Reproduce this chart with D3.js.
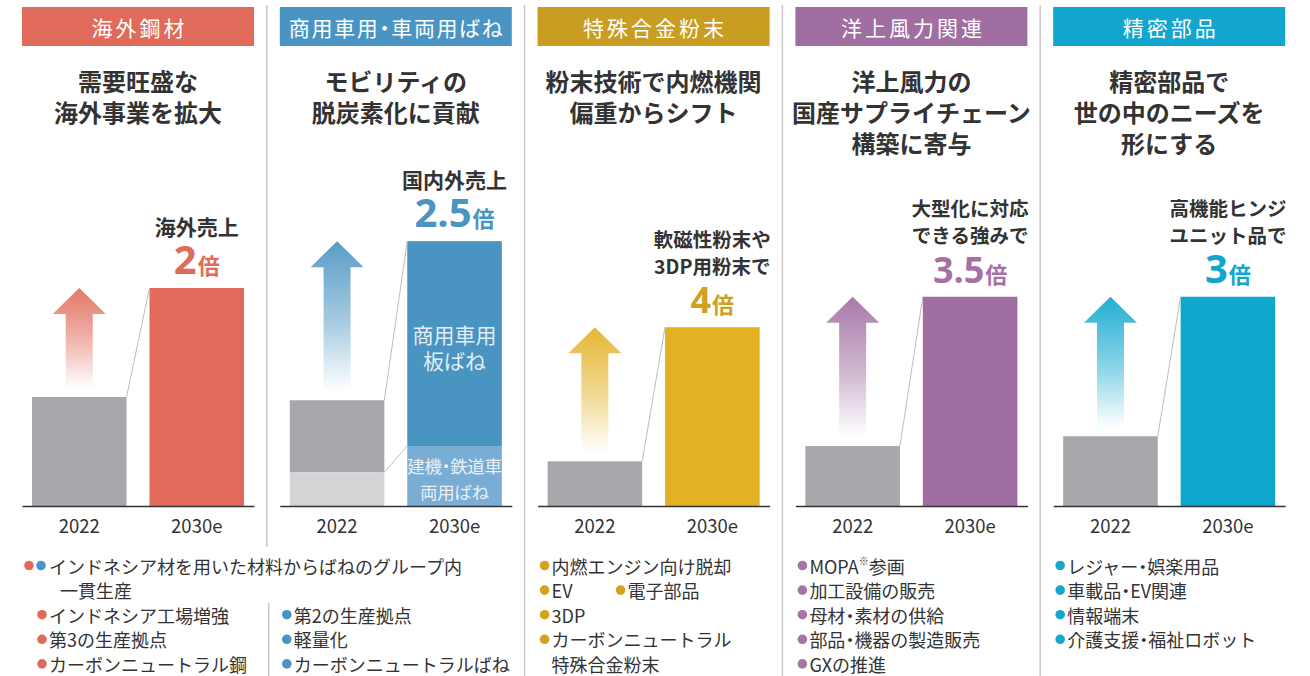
<!DOCTYPE html>
<html>
<head>
<meta charset="utf-8">
<script src="https://cdn.jsdelivr.net/npm/d3@7"></script>
<style>
  html, body { margin: 0; padding: 0; background: #fff; }
  svg { display: block; font-family: "Noto Sans CJK JP", "Noto Sans", sans-serif; }
  .half { font-feature-settings: "halt" 1; }
</style>
</head>
<body>
<svg id="chart" width="1310" height="676"></svg>
<script>
// ---- data ----
const segments = ["海外鋼材", "商用車用・車両用ばね", "特殊合金粉末", "洋上風力関連", "精密部品"];
const headlines = [
  ["需要旺盛な", "海外事業を拡大"],
  ["モビリティの", "脱炭素化に貢献"],
  ["粉末技術で内燃機関", "偏重からシフト"],
  ["洋上風力の", "国産サプライチェーン", "構築に寄与"],
  ["精密部品で", "世の中のニーズを", "形にする"]
];
const years = ["2022", "2030e"];
// sales index (2022 overseas steel = 1.0)
const sales2022 = [1.00, 0.97, 0.41, 0.55, 0.64];
const sales2030 = [2.00, 2.43, 1.64, 1.92, 1.92];
// construction-machinery / railway springs share inside the spring segment
const railSprings = [0.31, 0.55];
const springTypes = [["商用車用", "板ばね"], ["建機・鉄道車", "両用ばね"]];
const growthText = [
  ["海外売上"],
  ["国内外売上"],
  ["軟磁性粉末や", "3DP用粉末で"],
  ["大型化に対応", "できる強みで"],
  ["高機能ヒンジ", "ユニット品で"]
];
const growthFactor = ["2", "2.5", "4", "3.5", "3"];
const sharedNote = ["インドネシア材を用いた材料からばねのグループ内", "一貫生産"];
// each row lists its bullet items; "\n" continues an item on the next row
const notes = [
  [["インドネシア工場増強"], ["第3の生産拠点"], ["カーボンニュートラル鋼"]],
  [["第2の生産拠点"], ["軽量化"], ["カーボンニュートラルばね"]],
  [["内燃エンジン向け脱却"], ["EV", "電子部品"], ["3DP"], ["カーボンニュートラル\n特殊合金粉末"]],
  [["MOPA※参画"], ["加工設備の販売"], ["母材・素材の供給"], ["部品・機器の製造販売"], ["GXの推進"]],
  [["レジャー・娯楽用品"], ["車載品・EV関連"], ["情報端末"], ["介護支援・福祉ロボット"]]
];

// ---- styling ----
const headerColors = ["#E06B5A", "#4A94C3", "#C99D22", "#A06EA0", "#12A6CF"];
const barColors    = ["#E06B5A", "#4A94C2", "#E3B123", "#A06EA0", "#10A7CF"];
const factorColors = ["#E06B5A", "#4A94C3", "#CFA024", "#A670A6", "#12A6CF"];
const dotColors    = ["#E06B5A", "#4A94C3", "#D4A21E", "#A675A8", "#18A6CE"];
const headerSpacing = [3, 1.6, 3, 3, 3];
const labelSize = [21, 21, 19.5, 19.5, 19.5];
const factorSize = [40, 40, 36, 36, 40];
const grayBar = "#A7A8AB", lightGray = "#D3D4D6", railBlue = "#79ADD4";
const ink = "#333";

const svg = d3.select("#chart");
const defs = svg.append("defs");

// writes a string into a text element, giving the middle dot a half-width advance
function setText(sel, str) {
  const pieces = str.split("・");
  pieces.forEach((piece, k) => {
    if (k > 0) sel.append("tspan").attr("class", "half").text("・");
    if (piece) sel.append("tspan").text(piece);
  });
  return sel;
}

const panelX = d3.scaleBand().domain(segments).range([22, 1285.2]).paddingInner(0.1);
const pw = panelX.bandwidth();
const yearX = d3.scaleBand().domain(years).range([0, pw]).paddingInner(0.195).paddingOuter(0.085);
const bw = yearX.bandwidth();
const baseY = 506;
const y = d3.scaleLinear().domain([0, 2.5]).range([baseY, baseY - 2.5 * 109]);

// ---- separators ----
segments.slice(1).forEach((s, k) => {
  const sx = panelX(s) - 13;
  svg.append("line").attr("x1", sx).attr("x2", sx)
    .attr("y1", 5).attr("y2", k === 0 ? 547 : 676)
    .attr("stroke", "#c9c9c9").attr("stroke-width", 1.5);
});
{
  const sx = panelX(segments[1]) - 11;
  svg.append("line").attr("x1", sx).attr("x2", sx).attr("y1", 603).attr("y2", 676)
    .attr("stroke", "#c9c9c9").attr("stroke-width", 1.5);
}

// ---- panels ----
segments.forEach((seg, i) => {
  const x0 = panelX(seg);
  const g = svg.append("g").attr("transform", `translate(${x0},0)`);

  // header
  g.append("rect").attr("x", 0).attr("y", 7).attr("width", pw).attr("height", 39)
    .attr("fill", headerColors[i]);
  setText(g.append("text").attr("x", pw / 2 + headerSpacing[i] / 2).attr("y", 27)
    .attr("text-anchor", "middle").attr("dominant-baseline", "central")
    .attr("fill", "#fff").attr("font-size", 21).attr("letter-spacing", headerSpacing[i]), seg);

  // headline
  g.selectAll(".hl").data(headlines[i]).join("text")
    .attr("x", pw / 2).attr("y", (d, k) => 80 + 31 * k)
    .attr("text-anchor", "middle").attr("dominant-baseline", "central")
    .attr("fill", ink).attr("font-size", 24).attr("font-weight", "bold")
    .text(d => d);

  // gradient for the growth arrow
  const grad = defs.append("linearGradient").attr("id", `arrow-grad-${i}`)
    .attr("x1", 0).attr("y1", 0).attr("x2", 0).attr("y2", 1);
  grad.append("stop").attr("offset", 0).attr("stop-color", barColors[i]).attr("stop-opacity", 0.92);
  grad.append("stop").attr("offset", 0.55).attr("stop-color", barColors[i]).attr("stop-opacity", 0.48);
  grad.append("stop").attr("offset", 1).attr("stop-color", barColors[i]).attr("stop-opacity", 0);

  const xa = yearX("2022"), xb = yearX("2030e");
  const topA = y(sales2022[i]), topB = y(sales2030[i]);

  // bars
  if (i === 1) {
    g.append("rect").attr("x", xa).attr("y", topA).attr("width", bw).attr("height", y(railSprings[0]) - topA).attr("fill", grayBar);
    g.append("rect").attr("x", xa).attr("y", y(railSprings[0])).attr("width", bw).attr("height", baseY - y(railSprings[0])).attr("fill", lightGray);
    g.append("rect").attr("x", xb).attr("y", topB).attr("width", bw).attr("height", y(railSprings[1]) - topB).attr("fill", barColors[i]);
    g.append("rect").attr("x", xb).attr("y", y(railSprings[1])).attr("width", bw).attr("height", baseY - y(railSprings[1])).attr("fill", railBlue);
    // connectors
    [[sales2022[i], sales2030[i]], railSprings].forEach(([a, b]) => {
      g.append("line").attr("x1", xa + bw).attr("y1", y(a)).attr("x2", xb).attr("y2", y(b))
        .attr("stroke", "#bdbdbd").attr("stroke-width", 1);
    });
    // labels inside the stacked bar
    const upperMid = (topB + y(railSprings[1])) / 2 + 3;
    const lowerMid = (y(railSprings[1]) + baseY) / 2 + 2;
    springTypes[0].forEach((line, k) => {
      setText(g.append("text").attr("x", xb + bw / 2).attr("y", upperMid + (k - 0.5) * 26)
        .attr("text-anchor", "middle").attr("dominant-baseline", "central")
        .attr("fill", "#fff").attr("fill-opacity", 0.85).attr("font-size", 21), line);
    });
    springTypes[1].forEach((line, k) => {
      setText(g.append("text").attr("x", xb + bw / 2).attr("y", lowerMid + (k - 0.5) * 26)
        .attr("text-anchor", "middle").attr("dominant-baseline", "central")
        .attr("fill", "#fff").attr("fill-opacity", 0.85).attr("font-size", 17.5)
        .attr("letter-spacing", -0.3), line);
    });
  } else {
    g.append("rect").attr("x", xa).attr("y", topA).attr("width", bw).attr("height", baseY - topA).attr("fill", grayBar);
    g.append("rect").attr("x", xb).attr("y", topB).attr("width", bw).attr("height", baseY - topB).attr("fill", barColors[i]);
    g.append("line").attr("x1", xa + bw).attr("y1", topA).attr("x2", xb).attr("y2", topB)
      .attr("stroke", "#bdbdbd").attr("stroke-width", 1);
  }

  // growth arrow above the 2022 bar
  const cx = xa + bw / 2, aTop = topB, aBot = topA - 9;
  const hw = 26.5, hh = 26, sw = 13.5;
  const p = d3.path();
  p.moveTo(cx, aTop); p.lineTo(cx + hw, aTop + hh); p.lineTo(cx + sw, aTop + hh);
  p.lineTo(cx + sw, aBot); p.lineTo(cx - sw, aBot); p.lineTo(cx - sw, aTop + hh);
  p.lineTo(cx - hw, aTop + hh); p.closePath();
  g.append("path").attr("d", p.toString()).attr("fill", `url(#arrow-grad-${i})`);

  // growth label
  const lx = xb + bw / 2;
  const lines = growthText[i];
  g.selectAll(".gl").data(lines).join("text")
    .attr("x", lx).attr("y", (d, k) => topB - 62 - (lines.length - 1 - k) * 27)
    .attr("text-anchor", "middle").attr("dominant-baseline", "central")
    .attr("fill", ink).attr("font-size", labelSize[i]).attr("font-weight", "bold")
    .text(d => d);
  const ft = g.append("text").attr("x", lx).attr("y", topB - 14)
    .attr("text-anchor", "middle").attr("fill", factorColors[i]).attr("font-weight", "bold");
  ft.append("tspan").attr("font-size", factorSize[i]).attr("font-family", "'Open Sans', 'Noto Sans', sans-serif").text(growthFactor[i]);
  ft.append("tspan").attr("font-size", 22).attr("dx", 1).text("倍");

  // axis with year labels
  const axis = g.append("g").attr("transform", `translate(0,${baseY})`)
    .call(d3.axisBottom(yearX).tickSize(0).tickSizeOuter(0).tickPadding(14));
  axis.select(".domain").attr("stroke", ink).attr("stroke-width", 1.5);
  axis.selectAll("text").attr("font-size", 18.5).attr("fill", ink)
    .attr("font-family", "'Noto Sans CJK JP', 'Noto Sans', sans-serif");
});

// ---- bullet notes ----
const rowY = k => 565.5 + 24.6 * k;
function noteText(sel, str) {
  const parts = str.split("※");
  setText(sel, parts[0]);
  if (parts.length > 1) {
    sel.append("tspan").attr("font-size", 10).attr("dy", -6).text("※");
    setText(sel.append("tspan").attr("dy", 6), parts[1]);
  }
}
function bullet(x, yy, color) {
  svg.append("circle").attr("cx", x).attr("cy", yy).attr("r", 4.8).attr("fill", color);
}
function note(x, yy, str) {
  const t = svg.append("text").attr("x", x).attr("y", yy)
    .attr("dominant-baseline", "central").attr("fill", ink).attr("font-size", 18);
  noteText(t, str);
}

// shared first item of the steel & spring segments
{
  const x0 = panelX(segments[0]);
  bullet(x0 + 7, rowY(0), dotColors[0]);
  bullet(x0 + 19, rowY(0), dotColors[1]);
  note(x0 + 27, rowY(0), sharedNote[0]);
  note(x0 + 38, rowY(1), sharedNote[1]);
}

notes.forEach((rows, i) => {
  const x0 = panelX(segments[i]);
  const startRow = i < 2 ? 2 : 0;
  const dotX = i === 0 ? x0 + 20 : x0 + 7;
  let r = startRow;
  rows.forEach(items => {
    items.forEach((item, c) => {
      const dx = dotX + c * 76;
      const parts = item.split("\n");
      bullet(dx, rowY(r), dotColors[i]);
      note(dx + 7, rowY(r), parts[0]);
      parts.slice(1).forEach((cont, k) => note(dx + 7, rowY(r + k + 1), cont));
    });
    r += 1 + Math.max(...items.map(it => it.split("\n").length - 1));
  });
});
</script>
</body>
</html>
